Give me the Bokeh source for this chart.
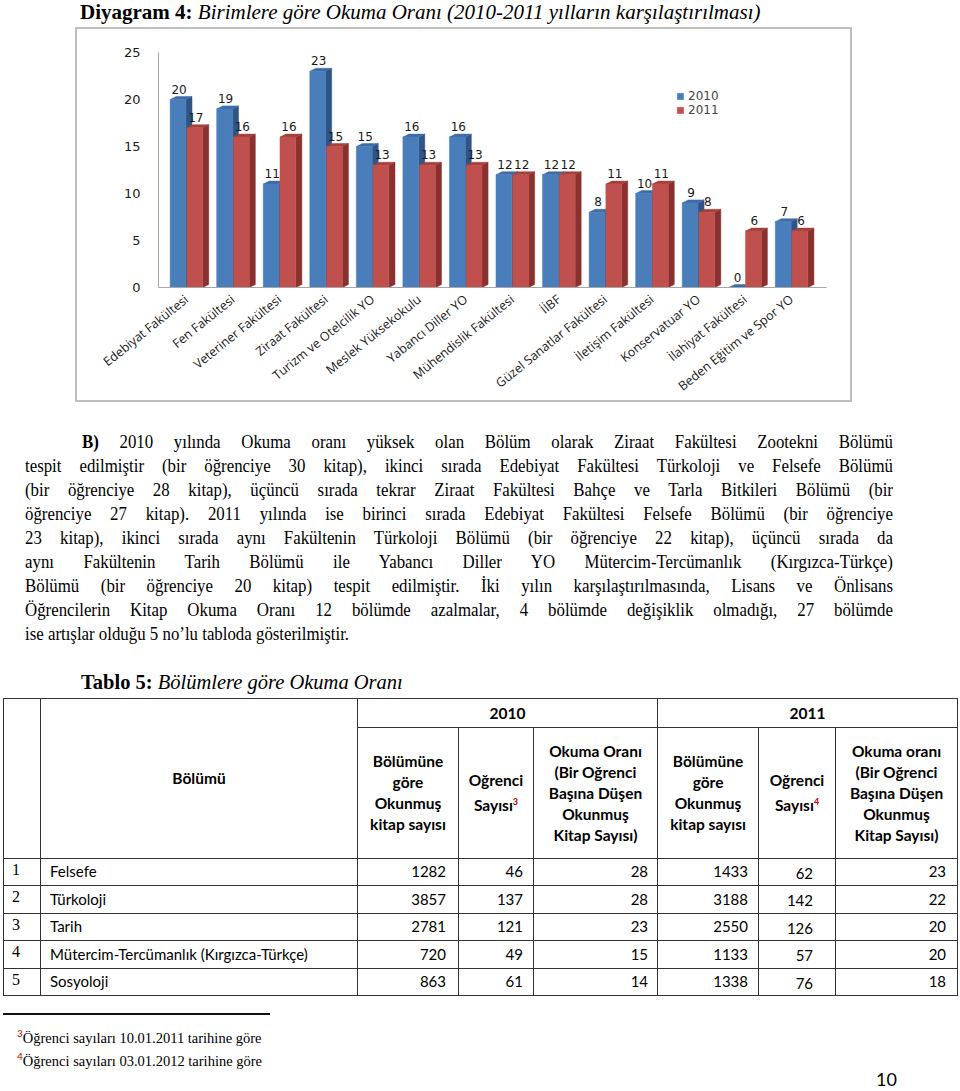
import numpy as np
from bokeh.plotting import figure
from bokeh.models import Div, Legend, LegendItem, FixedTicker
from bokeh.layouts import column
from bokeh.embed import file_html
from bokeh.resources import INLINE
from bokeh.core.properties import value

# ---------------- data ----------------
categories = ["Edebiyat Fakültesi", "Fen Fakültesi", "Veteriner Fakültesi", "Ziraat Fakültesi",
              "Turizm ve Otelcilik YO", "Meslek Yüksekokulu", "Yabancı Diller YO",
              "Mühendislik Fakültesi", "İİBF", "Güzel Sanatlar Fakültesi", "İletişim Fakültesi",
              "Konservatuar YO", "İlahiyat Fakültesi", "Beden Eğitim ve Spor YO"]
v2010 = [20, 19, 11, 23, 15, 16, 16, 12, 12, 8, 10, 9, 0, 7]
v2011 = [17, 16, 16, 15, 13, 13, 13, 12, 12, 11, 11, 8, 6, 6]
y_ticks = [0, 5, 10, 15, 20, 25]
series_names = ["2010", "2011"]

table_names = ["Felsefe", "Türkoloji", "Tarih", "Mütercim-Tercümanlık (Kırgızca-Türkçe)", "Sosyoloji"]
books_2010 = [1282, 3857, 2781, 720, 863]
students_2010 = [46, 137, 121, 49, 61]
rate_2010 = [28, 28, 23, 15, 14]
books_2011 = [1433, 3188, 2550, 1133, 1338]
students_2011 = [62, 142, 126, 57, 76]
rate_2011 = [23, 22, 20, 20, 18]

paragraph_lines = [
    "<b>B)</b> 2010 yılında Okuma oranı yüksek olan Bölüm olarak Ziraat Fakültesi Zootekni Bölümü",
    "tespit edilmiştir (bir öğrenciye 30 kitap), ikinci sırada Edebiyat Fakültesi Türkoloji ve Felsefe Bölümü",
    "(bir öğrenciye 28 kitap), üçüncü sırada tekrar Ziraat Fakültesi Bahçe ve Tarla Bitkileri Bölümü (bir",
    "öğrenciye 27 kitap). 2011 yılında ise birinci sırada Edebiyat Fakültesi Felsefe Bölümü (bir öğrenciye",
    "23 kitap), ikinci sırada aynı Fakültenin Türkoloji Bölümü (bir öğrenciye 22 kitap), üçüncü sırada da",
    "aynı Fakültenin Tarih Bölümü ile Yabancı Diller YO Mütercim-Tercümanlık (Kırgızca-Türkçe)",
    "Bölümü (bir öğrenciye 20 kitap) tespit edilmiştir. İki yılın karşılaştırılmasında, Lisans ve Önlisans",
    "Öğrencilerin Kitap Okuma Oranı 12 bölümde azalmalar, 4 bölümde değişiklik olmadığı, 27 bölümde",
    "ise artışlar olduğu 5 no’lu tabloda gösterilmiştir.",
]

SERIF = "Liberation Serif, serif"
SANS = "Lato, Open Sans, sans-serif"
PAGE_W = 958
TITLE_H = 27
CHART_W, CHART_H = 777, 375
BODY_H = 1090 - TITLE_H - CHART_H

# ---------------- title ----------------
title_div = Div(width=PAGE_W, height=TITLE_H, margin=(0, 0, 0, 0), text=(
    f"<div style='position:relative;width:{PAGE_W}px;height:{TITLE_H}px;'>"
    f"<span style='position:absolute;left:80px;top:0px;white-space:nowrap;font-family:{SERIF};"
    f"font-size:21px;line-height:24px;color:#000;'>"
    f"<b>Diyagram 4:</b> <i>Birimlere göre Okuma Oranı (2010-2011 yılların karşılaştırılması)</i></span></div>"))

# ---------------- chart ----------------
n = len(categories)
xi = np.arange(n, dtype=float)
w = 0.34
off = 0.18
dx, dy = 0.13, 0.32

p = figure(width=CHART_W, height=CHART_H, x_range=(-0.6, 13.75), y_range=(0, 25),
           output_backend="svg", toolbar_location=None,
           min_border_left=81, min_border_right=28, min_border_top=23, min_border_bottom=109,
           margin=(0, 0, 0, 75))
p.styles = {"border": "2px solid #BFBFBF", "box-sizing": "border-box"}
p.outline_line_color = None
p.xgrid.visible = False
p.ygrid.visible = False
p.background_fill_color = "white"


def faces(xc, vals):
    xs_side, ys_side, xs_top, ys_top = [], [], [], []
    for x, v in zip(xc, vals):
        l, r = x - w / 2, x + w / 2
        xs_side.append([r, r + dx, r + dx, r])
        ys_side.append([0, dy, v + dy, v])
        xs_top.append([l, l + dx, r + dx, r])
        ys_top.append([v, v + dy, v + dy, v])
    return xs_side, ys_side, xs_top, ys_top


renderers = []
for vals, shift, front, side, top in [
    (v2010, -off, "#4A7EBB", "#2F5587", "#3F6CA6"),
    (v2011, off, "#C0504D", "#8A302E", "#A5403D"),
]:
    xc = xi + shift
    xs_s, ys_s, xs_t, ys_t = faces(xc, vals)
    p.patches(xs_s, ys_s, fill_color=side, line_color=side, line_width=0.5)
    p.patches(xs_t, ys_t, fill_color=top, line_color=top, line_width=0.5)
    r = p.vbar(x=xc, top=vals, bottom=0, width=w, fill_color=front, line_color=front, line_width=0.5)
    renderers.append(r)

for vals, shift in [(v2010, -off), (v2011, off)]:
    p.text(x=xi + shift, y=vals, text=[str(v) for v in vals], text_font=value("DejaVu Sans"),
           text_font_size="12px", text_align="center", text_baseline="bottom",
           y_offset=-6, x_offset=1, text_color="#1a1a1a")

p.yaxis.ticker = FixedTicker(ticks=y_ticks)
p.yaxis.major_tick_line_color = None
p.yaxis.minor_tick_line_color = None
p.yaxis.axis_line_color = "#A6A6A6"
p.yaxis.major_label_text_font = "DejaVu Sans"
p.yaxis.major_label_text_font_size = "13px"
p.yaxis.major_label_text_color = "#1a1a1a"
p.yaxis.major_label_standoff = 12

p.xaxis.ticker = FixedTicker(ticks=list(range(n)))
p.xaxis.major_label_overrides = {i: c for i, c in enumerate(categories)}
p.xaxis.major_label_orientation = 0.68
p.xaxis.major_tick_line_color = None
p.xaxis.minor_tick_line_color = None
p.xaxis.axis_line_color = "#A6A6A6"
p.xaxis.major_label_text_font = "Open Sans"
p.xaxis.major_label_text_font_size = "12.5px"
p.xaxis.major_label_text_color = "#1a1a1a"
p.xaxis.major_label_standoff = 4

legend = Legend(items=[LegendItem(label=series_names[0], renderers=[renderers[0]]),
                       LegendItem(label=series_names[1], renderers=[renderers[1]])],
                location=(518, 170), padding=0, margin=0, spacing=0,
                glyph_width=8, glyph_height=8, label_height=14, label_standoff=4,
                label_text_font="DejaVu Sans", label_text_font_size="12px",
                border_line_color=None, background_fill_alpha=0)
p.add_layout(legend)

# ---------------- body (paragraph, table, footnotes) ----------------
parts = []
parts.append(f"<div style='position:relative;width:{PAGE_W}px;height:{BODY_H}px;overflow:hidden;color:#000;'>")

# paragraph (slightly condensed glyphs, as in the scanned page)
SX = 0.91
parts.append(f"<div style='position:absolute;left:25px;top:28px;width:{868 / SX:.1f}px;font-family:{SERIF};"
             f"font-size:18.5px;line-height:24px;white-space:nowrap;transform:scaleX({SX});transform-origin:left top;'>")
for i, line in enumerate(paragraph_lines):
    last = i == len(paragraph_lines) - 1
    style = "text-align:left;" if last else "text-align:justify;text-align-last:justify;"
    if i == 0:
        style += f"padding-left:{57 / SX:.1f}px;"
    parts.append(f"<div style='{style}'>{line}</div>")
parts.append("</div>")

# table caption
parts.append(f"<div style='position:absolute;left:81px;top:268px;white-space:nowrap;font-family:{SERIF};"
             f"font-size:20.5px;line-height:24px;'><b>Tablo 5:</b> <i>Bölümlere göre Okuma Oranı</i></div>")

# table
col_w = [37, 317, 101, 75, 124, 101, 77, 122]
bd = "1px solid #333"
hdr = (f"font-family:{SANS};font-weight:bold;font-size:15.5px;line-height:21px;text-align:center;"
       f"vertical-align:middle;border:{bd};padding:0;")
cell = f"font-family:{SANS};font-size:15px;border:{bd};padding:0;"
sup3 = "<sup style='color:#C00000;font-size:9px;'>3</sup>"
sup4 = "<sup style='color:#C00000;font-size:9px;'>4</sup>"
t = [f"<table style='position:absolute;left:3px;top:296px;width:{sum(col_w)}px;border-collapse:collapse;"
     f"table-layout:fixed;'>"]
t.append("<colgroup>" + "".join(f"<col style='width:{cw}px'>" for cw in col_w) + "</colgroup>")
t.append(f"<tr style='height:29px;'><td rowspan='2' style='{hdr}'></td>"
         f"<td rowspan='2' style='{hdr}'>Bölümü</td>"
         f"<td colspan='3' style='{hdr}'>{series_names[0]}</td><td colspan='3' style='{hdr}'>{series_names[1]}</td></tr>")
sub = ["Bölümüne<br>göre<br>Okunmuş<br>kitap sayısı",
       f"Oğrenci<br>Sayısı{sup3}",
       "Okuma Oranı<br>(Bir Oğrenci<br>Başına Düşen<br>Okunmuş<br>Kitap Sayısı)",
       "Bölümüne<br>göre<br>Okunmuş<br>kitap sayısı",
       f"Oğrenci<br>Sayısı{sup4}",
       "Okuma oranı<br>(Bir Oğrenci<br>Başına Düşen<br>Okunmuş<br>Kitap Sayısı)"]
t.append("<tr style='height:131px;'>" + "".join(f"<td style='{hdr}'>{s}</td>" for s in sub) + "</tr>")
for k in range(len(table_names)):
    vals = [books_2010[k], students_2010[k], rate_2010[k], books_2011[k], students_2011[k], rate_2011[k]]
    pads = [12, 10, 9, 10, 22, 11]
    row = "<tr style='height:27.4px;'>"
    row += (f"<td style='border:{bd};padding:0 0 0 8px;font-family:{SERIF};font-size:16px;"
            f"vertical-align:top;line-height:22px;'>{k + 1}</td>")
    row += f"<td style='{cell}padding-left:9px;vertical-align:middle;'>{table_names[k]}</td>"
    for j, v in enumerate(vals):
        va = "vertical-align:bottom;padding-bottom:1px;" if j == 4 else "vertical-align:middle;"
        row += f"<td style='{cell}text-align:right;padding-right:{pads[j]}px;{va}'>{v}</td>"
    row += "</tr>"
    t.append(row)
t.append("</table>")
parts.append("".join(t))

# footnotes
parts.append("<div style='position:absolute;left:3px;top:611px;width:267px;height:2px;background:#111;'></div>")
fn = [("3", "Öğrenci sayıları 10.01.2011 tarihine göre", 621),
      ("4", "Öğrenci sayıları 03.01.2012 tarihine göre", 644)]
for num, txt, top in fn:
    parts.append(f"<div style='position:absolute;left:17px;top:{top}px;white-space:nowrap;font-family:{SERIF};"
                 f"font-size:14.5px;line-height:20px;'><sup style='color:#C00000;font-family:{SANS};font-size:10px;'>{num}</sup>"
                 f"{txt}</div>")

# page number
parts.append(f"<div style='position:absolute;left:876px;top:668px;font-family:{SANS};font-size:18px;line-height:19px;'>10</div>")
parts.append("</div>")

body_div = Div(width=PAGE_W, height=BODY_H, margin=(0, 0, 0, 0), text="".join(parts))

layout = column(title_div, p, body_div, spacing=0)
open("out.html", "w").write(file_html(layout, INLINE))
